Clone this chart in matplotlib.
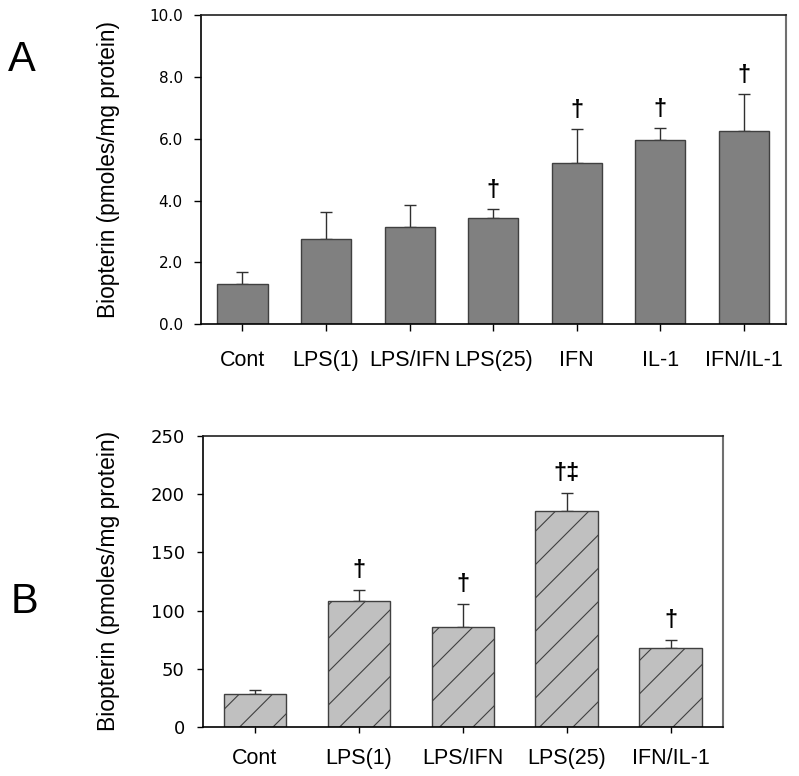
import matplotlib
matplotlib.use("Agg")
import matplotlib.pyplot as plt

plt.rcParams['font.family'] = ['Liberation Sans', 'DejaVu Sans']
plt.rcParams['hatch.color'] = '#404040'
plt.rcParams['hatch.linewidth'] = 0.8

# Panel A data
cats_a = ["Cont", "LPS(1)", "LPS/IFN", "LPS(25)", "IFN", "IL-1", "IFN/IL-1"]
vals_a = [1.3, 2.75, 3.15, 3.42, 5.2, 5.97, 6.25]
err_a = [0.4, 0.87, 0.7, 0.3, 1.12, 0.38, 1.2]
sig_a = ["", "", "", "†", "†", "†", "†"]
yticks_a = [0.0, 2.0, 4.0, 6.0, 8.0, 10.0]

# Panel B data
cats_b = ["Cont", "LPS(1)", "LPS/IFN", "LPS(25)", "IFN/IL-1"]
vals_b = [28.3, 108.3, 85.7, 185.7, 67.7]
err_b = [3.1, 9.1, 20.0, 15.2, 6.9]
sig_b = ["", "†", "†", "†‡", "†"]
yticks_b = [0, 50, 100, 150, 200, 250]

fig = plt.figure(figsize=(7.99, 7.76), dpi=100)
axA = fig.add_axes([0.2512, 0.5825, 0.7322, 0.3978])
axB = fig.add_axes([0.2537, 0.0631, 0.6508, 0.3754])


def style_axes(ax):
    for s in ['left', 'bottom']:
        ax.spines[s].set_color('black')
        ax.spines[s].set_linewidth(1.2)
    ax.spines['top'].set_color('#202020')
    ax.spines['top'].set_linewidth(1.2)
    ax.spines['right'].set_color('#707070')
    ax.spines['right'].set_linewidth(1.5)


# ---- Panel A ----
xa = list(range(len(cats_a)))
axA.bar(xa, vals_a, width=0.6, color='#808080', edgecolor='#404040', linewidth=1.0, zorder=2)
axA.errorbar(xa, vals_a, yerr=[[0] * len(err_a), err_a], fmt='none', ecolor='#303030',
             elinewidth=1.0, capsize=4.5, capthick=1.0, zorder=1)
for i, (v, e, s) in enumerate(zip(vals_a, err_a, sig_a)):
    if s:
        axA.annotate(s, (i, v + e), xytext=(0, 5), textcoords='offset points',
                     ha='center', va='bottom', fontsize=17, fontweight='bold')
axA.set_xlim(-0.5, 6.5)
axA.set_ylim(0, 10)
axA.set_yticks(yticks_a)
axA.set_yticklabels([f"{t:.1f}" for t in yticks_a], family='DejaVu Sans', fontsize=11)
axA.set_xticks(xa)
axA.set_xticklabels(cats_a, fontsize=15.5)
axA.tick_params(axis='y', direction='out', length=5, width=1, pad=8)
axA.tick_params(axis='x', direction='out', length=5, width=1, pad=14)
axA.set_ylabel("Biopterin (pmoles/mg protein)", fontsize=16.3, labelpad=21)
style_axes(axA)

# ---- Panel B ----
xb = list(range(len(cats_b)))
axB.bar(xb, vals_b, width=0.6, color='#c0c0c0', edgecolor='#404040', linewidth=1.0,
        hatch='/', zorder=2)
axB.errorbar(xb, vals_b, yerr=[[0] * len(err_b), err_b], fmt='none', ecolor='#303030',
             elinewidth=1.0, capsize=4.5, capthick=1.0, zorder=1)
for i, (v, e, s) in enumerate(zip(vals_b, err_b, sig_b)):
    if s:
        axB.annotate(s, (i, v + e), xytext=(0, 6), textcoords='offset points',
                     ha='center', va='bottom', fontsize=17, fontweight='bold')
axB.set_xlim(-0.5, 4.5)
axB.set_ylim(0, 250)
axB.set_yticks(yticks_b)
axB.set_yticklabels([str(t) for t in yticks_b], family='DejaVu Sans', fontsize=13)
axB.set_xticks(xb)
axB.set_xticklabels(cats_b, fontsize=15.5)
axB.tick_params(axis='y', direction='out', length=4, width=1, pad=9)
axB.tick_params(axis='x', direction='out', length=4, width=1, pad=11)
axB.set_ylabel("Biopterin (pmoles/mg protein)", fontsize=16.5, labelpad=22)
style_axes(axB)

fig.text(0.010, 0.897, "A", fontsize=30, ha='left', va='bottom')
fig.text(0.013, 0.199, "B", fontsize=30, ha='left', va='bottom')

fig.savefig("out.png", dpi=100)
